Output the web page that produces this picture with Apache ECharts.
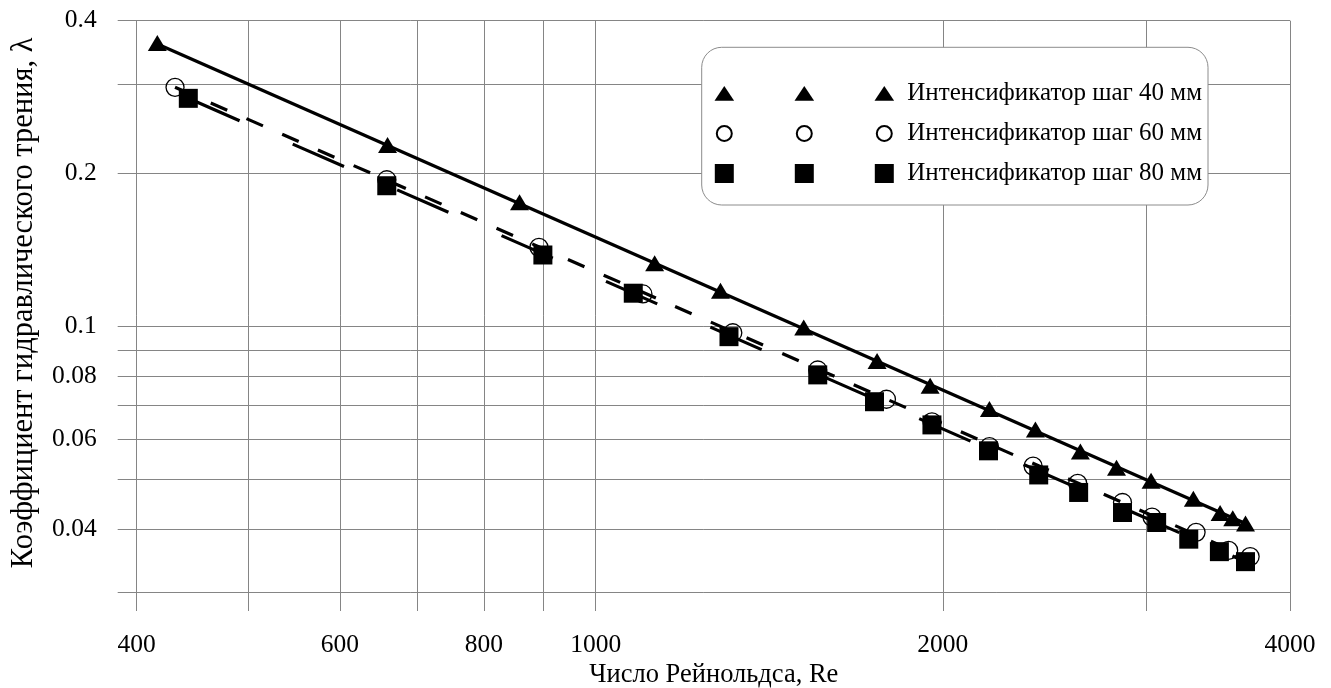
<!DOCTYPE html>
<html>
<head>
<meta charset="utf-8">
<script src="https://cdn.jsdelivr.net/npm/echarts@6/dist/echarts.min.js"></script>
<style>
html,body{margin:0;padding:0;background:#fff;}
#chart{width:1331px;height:688px;}
</style>
</head>
<body>
<div id="chart"></div>
<script>
// ---- data ----
const seriesNames = ['Интенсификатор шаг 40 мм', 'Интенсификатор шаг 60 мм', 'Интенсификатор шаг 80 мм'];

const re40 = [416.8, 660, 859, 1125, 1283, 1515, 1754, 1950, 2195, 2406, 2632, 2829, 3031, 3298, 3479, 3568, 3660];
const lambda40 = [0.3616, 0.2277, 0.1757, 0.1333, 0.1177, 0.0996, 0.0856, 0.0765, 0.0689, 0.0628, 0.0568, 0.0528, 0.0498, 0.0459, 0.0430, 0.0420, 0.0410];

const re60 = [431.8, 659, 893, 1099, 1315, 1558, 1787, 1957, 2195, 2395, 2618, 2863, 3037, 3316, 3539, 3694];
const lambda60 = [0.2958, 0.1946, 0.1433, 0.1160, 0.0973, 0.0822, 0.0720, 0.0650, 0.0581, 0.0532, 0.0492, 0.0451, 0.0422, 0.0394, 0.0363, 0.0353];

const re80 = [443.4, 659, 900, 1078, 1305, 1558, 1745, 1957, 2191, 2422, 2623, 2863, 3065, 3268, 3474, 3660];
const lambda80 = [0.2814, 0.1894, 0.1384, 0.1164, 0.0956, 0.0804, 0.0712, 0.0641, 0.0570, 0.0511, 0.0472, 0.0431, 0.0412, 0.0382, 0.0361, 0.0345];

// trend lines (end points)
const trendRe40 = [416.8, 3660];
const trendLambda40 = [0.360, 0.0410];
const trendRe60 = [431.8, 3694];
const trendLambda60 = [0.2958, 0.0350];
const trendRe80 = [443.4, 3660];
const trendLambda80 = [0.2814, 0.0345];

// axes / grid
const xGridValues = [400, 500, 600, 700, 800, 900, 1000, 2000, 3000, 4000];
const xTickLabels = [400, 600, 800, 1000, 2000, 4000];
const yGridValues = [0.03, 0.04, 0.05, 0.06, 0.07, 0.08, 0.09, 0.1, 0.2, 0.3, 0.4];
const yTickLabels = [0.04, 0.06, 0.08, 0.1, 0.2, 0.4];
const xMin = 385.1, xMax = 4000;     // axis reaches a bit beyond 400 (outer tick marks)
const yMin = 0.02759, yMax = 0.4;

const xTitle = 'Число Рейнольдса, Re';
const yTitle = 'Коэффициент гидравлического трения, λ';

// ---- build ----
const FONT = '"Liberation Serif", "Times New Roman", serif';
const zip = (a, b) => a.map((v, i) => [v, b[i]]);
const gridColor = '#858585';

const markLineData = [];
xGridValues.forEach(v => {
  const show = xTickLabels.indexOf(v) >= 0;
  markLineData.push({
    xAxis: v,
    label: { show: show, position: 'start', distance: 21, formatter: String(v),
      fontFamily: FONT, fontSize: 25.5, color: '#000' }
  });
});
yGridValues.forEach(v => {
  const show = yTickLabels.indexOf(v) >= 0;
  markLineData.push({
    yAxis: v,
    label: { show: show, position: 'start', distance: 21, formatter: String(v),
      fontFamily: FONT, fontSize: 25.5, color: '#000', padding: [3, 0, 0, 0] }
  });
});

const icons = [
  'path://M0,0M20,20M0.2,17.2L10,2.4L19.8,17.2Z',
  'path://M0,0M20,20M17.5,10A7.5,7.5,0,1,1,2.5,10A7.5,7.5,0,1,1,17.5,10Z',
  'path://M0,0M20,20M0.5,0.5L19.5,0.5L19.5,19.5L0.5,19.5Z'
];

function legendCol(left, withText) {
  return {
    orient: 'vertical',
    left: left,
    top: 81,
    padding: 0,
    itemWidth: 20,
    itemHeight: 20,
    itemGap: 15,
    selectedMode: false,
    z: 11,
    textStyle: { fontFamily: FONT, fontSize: 25, lineHeight: 24, color: '#000', padding: [0, 0, 0, 8] },
    formatter: withText ? (n => n) : (() => ' '),
    data: seriesNames.map((n, i) => ({ name: n, icon: icons[i] }))
  };
}

const option = {
  backgroundColor: '#fff',
  animation: false,
  grid: { left: 117.7, right: 41, top: 20.7, bottom: 77, containLabel: false, outerBoundsMode: 'none' },
  xAxis: {
    type: 'log', logBase: 10, min: xMin, max: xMax,
    axisLine: { show: false }, axisTick: { show: false }, axisLabel: { show: false },
    splitLine: { show: false }, minorSplitLine: { show: false },
    name: xTitle, nameLocation: 'middle', nameGap: 51,
    nameTextStyle: { fontFamily: FONT, fontSize: 26.5, color: '#000', padding: [0, 0, 0, 20] }
  },
  yAxis: {
    type: 'log', logBase: 10, min: yMin, max: yMax,
    axisLine: { show: false }, axisTick: { show: false }, axisLabel: { show: false },
    splitLine: { show: false }, minorSplitLine: { show: false },
    name: yTitle, nameLocation: 'middle', nameGap: 78,
    nameTextStyle: { fontFamily: FONT, fontSize: 30.5, color: '#000', padding: [0, 0, 0, 26] }
  },
  legend: [legendCol(713.3, false), legendCol(793.3, false), legendCol(873.3, true)],
  graphic: [{
    type: 'rect', z: 10, silent: true,
    shape: { x: 701.7, y: 47.3, width: 506.3, height: 157.7, r: 20 },
    style: { fill: '#fff', stroke: '#8c8c8c', lineWidth: 1 }
  }],
  series: [
    {
      name: 'grid', type: 'line', data: [], silent: true,
      markLine: {
        silent: true, symbol: ['none', 'none'], z: 1, animation: false,
        emphasis: { disabled: true },
        lineStyle: { color: gridColor, width: 1, type: 'solid' },
        data: markLineData
      }
    },
    {
      name: 'trend40', type: 'line', data: zip(trendRe40, trendLambda40), showSymbol: false, symbol: 'none',
      z: 2, silent: true, lineStyle: { color: '#000', width: 3.2, type: 'solid' }
    },
    {
      name: 'trend60', type: 'line', data: zip(trendRe60, trendLambda60), showSymbol: false, symbol: 'none',
      z: 2, silent: true, lineStyle: { color: '#000', width: 3.2, type: [18, 21] }
    },
    {
      name: 'trend80', type: 'line', data: zip(trendRe80, trendLambda80), showSymbol: false, symbol: 'none',
      z: 2, silent: true, lineStyle: { color: '#000', width: 3.2, type: [56, 58] }
    },
    {
      name: seriesNames[0], type: 'scatter', data: zip(re40, lambda40), z: 3,
      symbol: 'triangle', symbolSize: [19, 16],
      itemStyle: { color: '#000', opacity: 1 }
    },
    {
      name: seriesNames[1], type: 'scatter', data: zip(re60, lambda60), z: 3,
      symbol: 'circle', symbolSize: 18,
      itemStyle: { color: 'rgba(255,255,255,0)', borderColor: '#000', borderWidth: 1.3, opacity: 1 }
    },
    {
      name: seriesNames[2], type: 'scatter', data: zip(re80, lambda80), z: 3,
      symbol: 'rect', symbolSize: 19,
      itemStyle: { color: '#000', opacity: 1 }
    }
  ]
};

const chart = echarts.init(document.getElementById('chart'), null, { renderer: 'canvas' });
chart.setOption(option);
</script>
</body>
</html>
